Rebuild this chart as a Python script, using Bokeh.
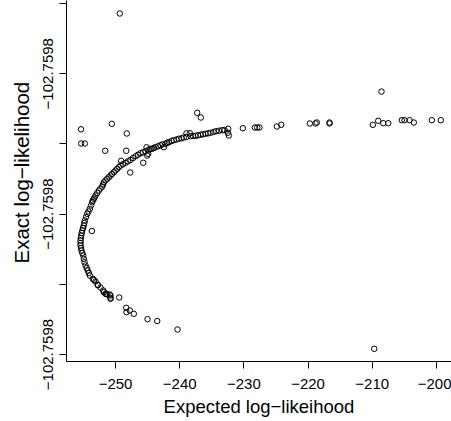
from bokeh.plotting import figure
from bokeh.models import FixedTicker, Range1d, Title
from bokeh.embed import file_html
from bokeh.resources import INLINE

# Expected log-likelihood (x) and exact log-likelihood offset (y, in tick steps above -102.7598 baseline tick)
expected_ll = [
    -232.44, -232.50, -232.34, -233.01, -233.37, -233.87, -234.31, -234.73, -235.20, -235.58,
    -235.97, -236.36, -236.75, -237.14, -237.53, -237.92, -238.31, -238.42, -238.94, -238.94,
    -239.36, -239.71, -240.14, -240.49, -240.91, -241.27, -241.69, -241.94, -242.21, -242.47,
    -242.68, -242.99, -243.38, -243.77, -244.03, -244.28, -244.55, -244.86, -244.90, -245.17,
    -245.32, -245.71, -246.10, -246.49, -246.88, -247.27, -247.66, -248.05, -248.44, -248.83,
    -249.22, -249.49, -249.74, -250.00, -250.26, -250.55, -250.78, -251.04, -251.29, -251.56,
    -251.82, -251.95, -252.07, -252.34, -252.60, -252.85, -253.12, -253.27, -253.38, -253.54,
    -253.63, -253.82, -254.00, -254.21, -254.41, -254.60, -254.78, -254.86, -254.94, -255.06,
    -255.19, -255.27, -255.35, -255.41, -255.45, -255.45, -255.45, -255.38, -255.30, -255.18,
    -255.03, -254.94, -254.83, -254.68, -254.49, -254.32, -254.16, -254.00, -253.54, -253.35,
    -253.12, -252.76, -252.76, -252.34, -251.92, -251.82, -251.56, -251.45, -251.29, -250.89,
    -250.78, -250.78, -250.78, -249.42, -248.33, -248.29, -247.77, -247.15, -245.01, -243.50,
    -240.34, -209.68, -245.07,
    # scattered points
    -249.33, -208.55, -237.27, -236.71, -255.38, -250.58, -248.24, -255.35, -254.78, -251.61,
    -248.33, -249.11, -247.71, -245.68, -253.69,
    # right-hand row
    -230.16, -228.29, -227.92, -227.56, -224.86, -224.18, -219.72, -218.83, -218.63, -216.65,
    -216.65, -209.90, -209.06, -208.28, -207.50, -205.38, -204.96, -204.18, -203.51, -200.71,
    -199.31,
]
exact_ll = [
    3.215, 3.158, 3.120, 3.198, 3.195, 3.188, 3.181, 3.170, 3.158, 3.151,
    3.144, 3.137, 3.130, 3.122, 3.115, 3.113, 3.110, 3.152, 3.152, 3.098,
    3.091, 3.080, 3.073, 3.063, 3.053, 3.041, 3.024, 3.016, 3.001, 2.953,
    2.994, 2.981, 2.966, 2.953, 2.942, 2.930, 2.930, 2.916, 2.859, 2.953,
    2.896, 2.880, 2.868, 2.846, 2.825, 2.799, 2.773, 2.752, 2.731, 2.711,
    2.692, 2.668, 2.645, 2.621, 2.597, 2.571, 2.550, 2.526, 2.503, 2.479,
    2.454, 2.422, 2.393, 2.365, 2.336, 2.301, 2.265, 2.236, 2.218, 2.194,
    2.170, 2.122, 2.076, 2.037, 2.004, 1.959, 1.909, 1.873, 1.838, 1.802,
    1.766, 1.731, 1.695, 1.660, 1.624, 1.588, 1.553, 1.517, 1.481, 1.446,
    1.410, 1.363, 1.315, 1.268, 1.232, 1.197, 1.161, 1.125, 1.078, 1.061,
    1.040, 0.993, 0.987, 0.954, 0.912, 0.887, 0.865, 0.865, 0.855, 0.855,
    0.840, 0.793, 0.808, 0.812, 0.665, 0.603, 0.627, 0.580, 0.503, 0.477,
    0.356, 0.081, 2.835,
    4.858, 3.746, 3.443, 3.376, 3.208, 3.286, 3.148, 3.006, 3.006, 2.902,
    2.902, 2.759, 2.593, 2.731, 1.759,
    3.224, 3.234, 3.234, 3.234, 3.248, 3.272, 3.291, 3.291, 3.305, 3.305,
    3.291, 3.272, 3.329, 3.295, 3.295, 3.338, 3.338, 3.338, 3.305, 3.338,
    3.338,
]

x_ticks = [-250, -240, -230, -220, -210, -200]
x_tick_labels = ["\u2212250", "\u2212240", "\u2212230", "\u2212220", "\u2212210", "\u2212200"]
y_ticks = [0, 1, 2, 3, 4, 5]
y_tick_labels = ["\u2212102.7598", "", "\u2212102.7598", "", "\u2212102.7598", ""]
x_title = "Expected log\u2212likeihood"
y_title = "Exact log\u2212likelihood"

FONT = "Liberation Sans"

p = figure(width=451, height=421, output_backend="svg", toolbar_location=None,
           x_range=Range1d(-257.64, -197.64), y_range=Range1d(-0.0997, 5.043),
           min_border_left=66, min_border_bottom=60, min_border_top=0, min_border_right=0)
p.xgrid.visible = False
p.ygrid.visible = False
p.outline_line_color = None
p.background_fill_color = "white"

p.scatter(expected_ll, exact_ll, marker="circle", size=5.5, fill_color=None,
          line_color="black", line_width=1)

for ax in (p.xaxis[0], p.yaxis[0]):
    ax.axis_line_color = "black"
    ax.axis_line_width = 1
    ax.major_tick_line_color = "black"
    ax.major_tick_out = 7
    ax.major_tick_in = 0
    ax.minor_tick_line_color = None
    ax.major_label_text_font = FONT
    ax.major_label_text_font_size = "15px"
    ax.major_label_text_color = "black"
    ax.axis_label_text_font = FONT
    ax.axis_label_text_font_style = "normal"
    ax.axis_label_text_color = "black"

p.xaxis.ticker = FixedTicker(ticks=x_ticks)
p.xaxis.major_label_overrides = dict(zip(x_ticks, x_tick_labels))
p.xaxis.major_label_standoff = 10
p.xaxis.axis_label = x_title
p.xaxis.axis_label_text_font_size = "18.5px"
p.xaxis.axis_label_standoff = 4

p.yaxis.ticker = FixedTicker(ticks=y_ticks)
p.yaxis.major_label_overrides = dict(zip(y_ticks, y_tick_labels))
p.yaxis.major_label_orientation = "vertical"
p.yaxis.major_label_standoff = 6

# y title as a side title, positioned like R's (its plot region extends above the crop)
ytitle = Title(text=y_title, align="left", vertical_align="middle", offset=98, standoff=13,
               text_font=FONT, text_font_size="20.5px", text_font_style="normal",
               text_color="black")
p.add_layout(ytitle, "left")

open("out.html", "w").write(file_html(p, INLINE))
